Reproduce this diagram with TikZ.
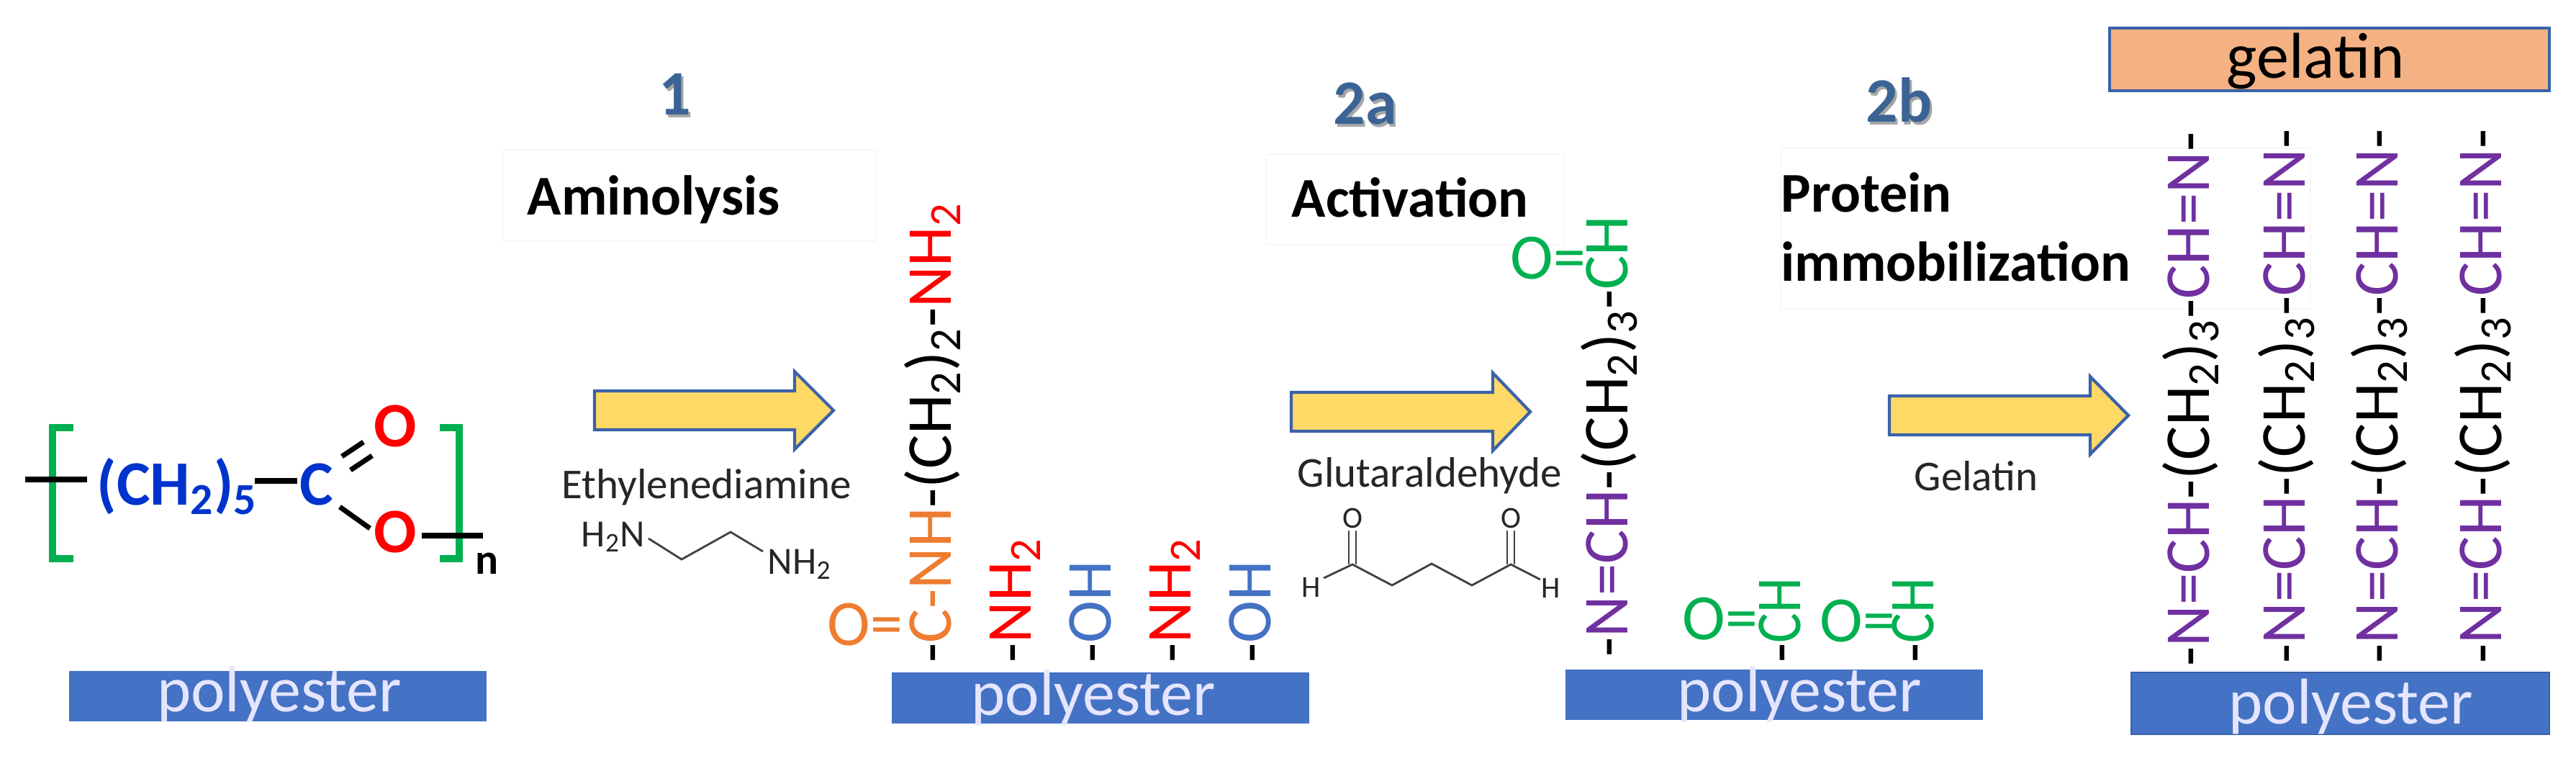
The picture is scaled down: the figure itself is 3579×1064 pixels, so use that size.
\documentclass[tikz,border=0pt]{standalone}
\usepackage{fontspec}
\setmainfont{Carlito}
\definecolor{boxblue}{HTML}{4472C4}
\definecolor{edgeblue}{HTML}{3A62A8}
\definecolor{arrowfill}{HTML}{FFD966}
\definecolor{stepblue}{HTML}{3B6494}
\definecolor{gelfill}{HTML}{F4B183}
\definecolor{chgreen}{HTML}{00B050}
\definecolor{chpurple}{HTML}{7030A0}
\definecolor{chorange}{HTML}{ED7D31}
\definecolor{chblue}{HTML}{0033CC}
\newcommand\fs[1]{\fontsize{#1pt}{#1pt}\selectfont}
\newcommand\sbs[1]{\textsubscript{#1}}
\newcommand\stepnum[1]{\rlap{\kern.035em\raisebox{-.035em}{\color{black!35}#1}}#1}
\newcommand\CHb{-(CH\sbs{2})}
\newcommand\tightCH{\scalebox{.88}[1]{\textcolor{chgreen}{CH}}}
\tikzset{
	chain/.style={rotate=90,anchor=base west,inner sep=0pt,font=\fs{25.3}},
	upright/.style={anchor=base west,inner sep=0pt,font=\fs{25.6}},
	polybox/.style={anchor=base,inner sep=0pt,font=\fs{25.6},text=blue!10!white},
	stepno/.style={anchor=base west,inner sep=0pt,font=\bfseries\fs{25},text=stepblue},
	stepname/.style={anchor=base west,inner sep=0pt,font=\bfseries\fs{22.2}},
	reagent/.style={anchor=base west,inner sep=0pt,font=\fs{16.8},text=black!85},
	atom/.style={inner sep=0pt,font=\fs{12},text=black!85},
	bold/.style={inner sep=0pt,font=\bfseries\fs{25}},
	bond/.style={line width=2pt,black},
	thin bond/.style={line width=.8pt,black!75},
	bracketline/.style={line width=2.7pt,chgreen},
	labelbg/.style={black!3,fill=white,line width=.4pt}
}
\begin{document}
\begin{tikzpicture}[x=.01cm,y=-.01cm]
	\useasboundingbox (0,0) rectangle (3579,1064);
	% label backgrounds
	\draw[labelbg] (699,208) rectangle (1217,335);
	\draw[labelbg] (1759,214) rectangle (2173,340);
	\draw[labelbg] (2474,206) rectangle (3210,429);
	% monomer
	\draw[bracketline] (102,594)--(73,594)--(73,776)--(102,776);
	\draw[bracketline] (611,594)--(638,594)--(638,776)--(611,776);
	\draw[bond] (35,666)--(121,666);
	\draw[bond] (354,668)--(413,668);
	\draw[bond] (475,634)--(505,614);
	\draw[bond] (487,653)--(517,633);
	\draw[bond] (472,704)--(514,734);
	\draw[bond] (586,744)--(671,744);
	\node[bold,text=chblue,anchor=base west] (chtwo) at (134,701) {(CH\sbs{2})\sbs{5}};
	\node[bold,text=chblue,anchor=base west] (carb) at (416,701) {C};
	\node[bold,text=red] (otop) at (549,592) {O};
	\node[bold,text=red] (olow) at (549,739) {O};
	\node[bold,anchor=base west,font=\bfseries\fs{17}] (rep) at (660,797) {n};
	% arrows
	\foreach \xa/\xb/\xc/\ym in {826/1104/1158/570,1794/2074/2126/572,2625/2904/2957/577}{
		\draw[edgeblue,fill=arrowfill,line width=1.2pt] (\xa,\ym-27)--(\xb,\ym-27)--(\xb,\ym-54)--(\xc,\ym)--(\xb,\ym+54)--(\xb,\ym+27)--(\xa,\ym+27)--cycle;
	}
	% step labels
	\node[stepno] (stepa) at (915,160) {\stepnum{1}};
	\node[stepno] (stepb) at (1852,173) {\stepnum{2a}};
	\node[stepno] (stepc) at (2592,170) {\stepnum{2b}};
	\node[stepname] (aminolysis) at (732,299) {Aminolysis};
	\node[stepname] (activation) at (1794,302) {Activation};
	\node[stepname] (protein) at (2474,295) {Protein};
	\node[stepname] (immob) at (2474,390) {immobilization};
	% reagents
	\node[reagent] (ethyl) at (780,692) {Ethylenediamine};
	\node[reagent] (gluta) at (1802,676) {Glutaraldehyde};
	\node[reagent] (gelat) at (2659,681) {Gelatin};
	\node[reagent,font=\fs{15.2}] (hleft) at (807,759) {H\sbs{2}N};
	\node[reagent,font=\fs{15.2}] (hright) at (1066,797) {NH\sbs{2}};
	\draw[thin bond] (901,748)--(947,777)--(1015,739)--(1060,766);
	\draw[thin bond] (1839,803)--(1879,784)--(1934,813)--(1989,783)--(2045,813)--(2099,784)--(2140,805);
	\draw[thin bond] (1874,737)--(1874,784) (1884,737)--(1884,784);
	\draw[thin bond] (2094,737)--(2094,784) (2104,737)--(2104,784);
	\node[atom] (ha) at (1822,816) {H};
	\node[atom] (hb) at (2155,817) {H};
	\node[atom] (oa) at (1879,720) {O};
	\node[atom] (ob) at (2099,720) {O};
	% polyester bars
	\fill[boxblue] (96,932) rectangle (676,1002);
	\fill[boxblue] (1239,934) rectangle (1819,1005);
	\fill[boxblue] (2175,930) rectangle (2755,1000);
	\draw[edgeblue,fill=boxblue,line width=.6pt] (2961,934) rectangle (3542,1020);
	\node[polybox] (polya) at (388,988) {polyester};
	\node[polybox] (polyb) at (1519,993) {polyester};
	\node[polybox] (polyc) at (2500,988) {polyester};
	\node[polybox] (polyd) at (3266,1005) {polyester};
	% gelatin bar
	\draw[edgeblue,fill=gelfill,line width=1.2pt] (2931,39) rectangle (3542,126);
	\node[anchor=base,inner sep=0pt,font=\fs{25.6}] (gelbar) at (3217,109) {gelatin};
	% step 1 chains
	\node[upright,text=chorange] (oa1) at (1149,896) {O=};
	\node[chain] (cha) at (1321,921) {-\textcolor{chorange}{C-NH}\CHb\sbs{2}-\textcolor{red}{NH\sbs{2}}};
	\node[chain] (chb) at (1432,921) {-\textcolor{red}{NH\sbs{2}}};
	\node[chain] (chc) at (1543,921) {-\textcolor{boxblue}{OH}};
	\node[chain] (chd) at (1654,921) {-\textcolor{red}{NH\sbs{2}}};
	\node[chain] (che) at (1765,921) {-\textcolor{boxblue}{OH}};
	% step 2a chains
	\node[upright,text=chgreen] (oa2) at (2098,388) {O=};
	\node[chain] (chf) at (2261,913) {-\textcolor{chpurple}{N=CH}\CHb\sbs{3}-\textcolor{chgreen}{CH}};
	\node[upright,text=chgreen] (ob2) at (2337,888) {O=};
	\node[upright,text=chgreen] (oc2) at (2528,891) {O=};
	\node[chain] (chg) at (2501,921) {-\tightCH};
	\node[chain] (chh) at (2686,921) {-\tightCH};
	% step 2b chains
	\foreach \xb/\yb/\nm in {3069/926/pa,3202/922/pb,3331/922/pc,3475/922/pd}{
		\node[chain] (\nm) at (\xb,\yb) {-\textcolor{chpurple}{N=CH}\CHb\sbs{3}-\textcolor{chpurple}{CH=N}-};
	}
\end{tikzpicture}
\end{document}
